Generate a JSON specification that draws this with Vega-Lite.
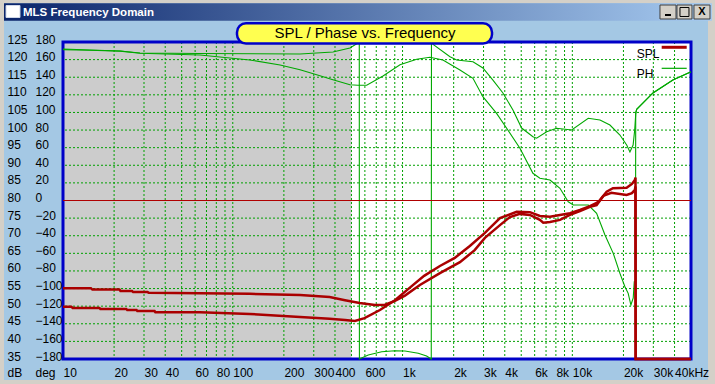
{
  "$schema": "https://vega.github.io/schema/vega-lite/v6.json",
  "width": 628,
  "height": 317,
  "autosize": {"type": "none"},
  "padding": {"left": 63, "top": 42, "right": 24, "bottom": 25},
  "background": "#a4c8e4",
  "config": {"view": {"fill": "#ffffff", "stroke": null}, "axis": {"labelOverlap": false}},
  "datasets": {
    "gridx": [{"f":20},{"f":30},{"f":40},{"f":50},{"f":60},{"f":70},{"f":80},{"f":90},{"f":100},{"f":200},{"f":300},{"f":400},{"f":500},{"f":600},{"f":700},{"f":800},{"f":900},{"f":1000},{"f":2000},{"f":3000},{"f":4000},{"f":5000},{"f":6000},{"f":7000},{"f":8000},{"f":9000},{"f":10000},{"f":20000},{"f":30000},{"f":40000}],
    "gridy": [{"db":40},{"db":45},{"db":50},{"db":55},{"db":60},{"db":65},{"db":70},{"db":75},{"db":80},{"db":85},{"db":90},{"db":95},{"db":100},{"db":105},{"db":110},{"db":115},{"db":120}],
    "spl": [
      {"s":"A","f":10,"db":55.1},{"s":"A","f":14.6,"db":55.1},{"s":"A","f":14.9,"db":54.7},{"s":"A","f":21.5,"db":54.7},{"s":"A","f":21.8,"db":54.3},{"s":"A","f":25.5,"db":54.3},{"s":"A","f":25.9,"db":54.0},{"s":"A","f":31.5,"db":54.0},{"s":"A","f":32,"db":53.8},{"s":"A","f":64,"db":53.7},{"s":"A","f":126,"db":53.5},{"s":"A","f":249,"db":53.2},{"s":"A","f":372,"db":52.6},{"s":"A","f":458,"db":51.7},{"s":"A","f":559,"db":50.9},{"s":"A","f":687,"db":50.3},{"s":"A","f":788,"db":50.4},{"s":"A","f":902,"db":51.5},{"s":"A","f":1033,"db":53.0},{"s":"A","f":1265,"db":56.0},{"s":"A","f":1660,"db":59.4},{"s":"A","f":2178,"db":62.5},{"s":"A","f":2660,"db":65.9},{"s":"A","f":3055,"db":69.4},{"s":"A","f":3748,"db":73.0},{"s":"A","f":4290,"db":75.3},{"s":"A","f":4913,"db":76.2},{"s":"A","f":5627,"db":75.9},{"s":"A","f":6440,"db":74.5},{"s":"A","f":6740,"db":73.7},{"s":"A","f":7387,"db":73.9},{"s":"A","f":8456,"db":74.5},{"s":"A","f":9683,"db":75.9},{"s":"A","f":11090,"db":77.0},{"s":"A","f":12700,"db":78.2},{"s":"A","f":13900,"db":78.7},{"s":"A","f":15210,"db":81.3},{"s":"A","f":16960,"db":82.2},{"s":"A","f":20880,"db":81.6},{"s":"A","f":22440,"db":82.1},{"s":"A","f":23350,"db":83.0},{"s":"A","f":23550,"db":84.0},{"s":"A","f":23600,"db":35},{"s":"A","f":50000,"db":35},
      {"s":"B","f":10,"db":49.85},{"s":"B","f":11.2,"db":49.85},{"s":"B","f":11.4,"db":49.5},{"s":"B","f":16.4,"db":49.5},{"s":"B","f":16.6,"db":49.2},{"s":"B","f":23.6,"db":49.2},{"s":"B","f":23.9,"db":48.9},{"s":"B","f":27.1,"db":48.9},{"s":"B","f":27.4,"db":48.6},{"s":"B","f":34.6,"db":48.6},{"s":"B","f":35,"db":48.3},{"s":"B","f":64,"db":48.3},{"s":"B","f":126,"db":47.8},{"s":"B","f":249,"db":46.9},{"s":"B","f":372,"db":46.4},{"s":"B","f":458,"db":46.1},{"s":"B","f":524,"db":45.8},{"s":"B","f":597,"db":46.6},{"s":"B","f":736,"db":48.9},{"s":"B","f":902,"db":51.7},{"s":"B","f":1100,"db":55.2},{"s":"B","f":1340,"db":58.6},{"s":"B","f":1660,"db":61.4},{"s":"B","f":2030,"db":63.7},{"s":"B","f":2490,"db":67.1},{"s":"B","f":3055,"db":70.8},{"s":"B","f":3748,"db":75.0},{"s":"B","f":4697,"db":76.8},{"s":"B","f":5627,"db":76.7},{"s":"B","f":6440,"db":75.6},{"s":"B","f":7387,"db":75.4},{"s":"B","f":8456,"db":75.9},{"s":"B","f":9683,"db":76.4},{"s":"B","f":11090,"db":77.3},{"s":"B","f":12700,"db":78.4},{"s":"B","f":13900,"db":79.3},{"s":"B","f":14550,"db":80.1},{"s":"B","f":15930,"db":82.5},{"s":"B","f":17340,"db":83.5},{"s":"B","f":20880,"db":83.6},{"s":"B","f":22440,"db":84.7},{"s":"B","f":23350,"db":85.8},{"s":"B","f":23550,"db":86.5},{"s":"B","f":23600,"db":35},{"s":"B","f":50000,"db":35}
    ],
    "ph": [
      {"s":"1","f":10,"deg":172.0},{"s":"1","f":14.4,"deg":170.9},{"s":"1","f":21.7,"deg":169.8},{"s":"1","f":28.4,"deg":167.5},{"s":"1","f":64,"deg":166.9},{"s":"1","f":249,"deg":166.4},{"s":"1","f":389,"deg":168.6},{"s":"1","f":490,"deg":173.2},{"s":"1","f":546,"deg":178.9},{"s":"1","f":556,"deg":180},{"s":"1","f":557,"deg":-180},{"s":"1","f":628,"deg":-175.4},{"s":"1","f":754,"deg":-171.7},{"s":"1","f":902,"deg":-170.6},{"s":"1","f":1033,"deg":-170.9},{"s":"1","f":1237,"deg":-173.5},{"s":"1","f":1385,"deg":-176.6},{"s":"1","f":1476,"deg":-180},{"s":"1","f":1480,"deg":180},{"s":"1","f":1520,"deg":177},{"s":"1","f":1903,"deg":163.3},{"s":"1","f":2083,"deg":159.6},{"s":"1","f":2599,"deg":157.6},{"s":"1","f":2973,"deg":150.5},{"s":"1","f":3407,"deg":136.8},{"s":"1","f":3902,"deg":122.1},{"s":"1","f":4469,"deg":102.8},{"s":"1","f":5027,"deg":82.3},{"s":"1","f":5861,"deg":72.5},{"s":"1","f":6160,"deg":70.7},{"s":"1","f":7060,"deg":78.1},{"s":"1","f":8078,"deg":82.0},{"s":"1","f":9910,"deg":80.1},{"s":"1","f":12410,"deg":93.4},{"s":"1","f":14550,"deg":91.4},{"s":"1","f":16650,"deg":85.7},{"s":"1","f":19070,"deg":74.4},{"s":"1","f":20900,"deg":63.0},{"s":"1","f":21840,"deg":55.1},{"s":"1","f":22800,"deg":63.0},{"s":"1","f":23300,"deg":80},{"s":"1","f":23620,"deg":98},{"s":"1","f":23930,"deg":103.6},{"s":"1","f":29850,"deg":122.1},{"s":"1","f":39100,"deg":136.8},{"s":"1","f":49300,"deg":145.6},{"s":"1","f":50000,"deg":146},
      {"s":"2","f":10,"deg":171.3},{"s":"2","f":14.4,"deg":170.6},{"s":"2","f":21.7,"deg":169.6},{"s":"2","f":28.4,"deg":167.3},{"s":"2","f":64,"deg":165.2},{"s":"2","f":126,"deg":159.6},{"s":"2","f":190,"deg":153.9},{"s":"2","f":249,"deg":148.5},{"s":"2","f":312,"deg":142.9},{"s":"2","f":389,"deg":137.2},{"s":"2","f":490,"deg":131.5},{"s":"2","f":546,"deg":130.8},{"s":"2","f":615,"deg":130.8},{"s":"2","f":767,"deg":141.4},{"s":"2","f":966,"deg":154.2},{"s":"2","f":1211,"deg":160.4},{"s":"2","f":1449,"deg":162.6},{"s":"2","f":1729,"deg":159.6},{"s":"2","f":2178,"deg":148.2},{"s":"2","f":2599,"deg":138.8},{"s":"2","f":2973,"deg":117.9},{"s":"2","f":3580,"deg":99.0},{"s":"2","f":4103,"deg":82.0},{"s":"2","f":4913,"deg":59.3},{"s":"2","f":5861,"deg":30.9},{"s":"2","f":6440,"deg":25.2},{"s":"2","f":7387,"deg":23.3},{"s":"2","f":8456,"deg":13.9},{"s":"2","f":9460,"deg":-1.4},{"s":"2","f":10130,"deg":-5.1},{"s":"2","f":12420,"deg":-5.1},{"s":"2","f":13900,"deg":-14.5},{"s":"2","f":15570,"deg":-39.2},{"s":"2","f":17420,"deg":-60.0},{"s":"2","f":19070,"deg":-82.7},{"s":"2","f":20410,"deg":-97.9},{"s":"2","f":21330,"deg":-105.4},{"s":"2","f":22130,"deg":-118.7},{"s":"2","f":22840,"deg":-110.7},{"s":"2","f":23160,"deg":-92.2},{"s":"2","f":23550,"deg":-92},{"s":"2","f":23620,"deg":100},{"s":"2","f":23930,"deg":103.6},{"s":"2","f":29850,"deg":122.1},{"s":"2","f":39100,"deg":136.8},{"s":"2","f":49300,"deg":145.6},{"s":"2","f":50000,"deg":146}
    ]
  },
  "layer": [
    {
      "layer": [
        {
          "data": {"values": [{}]},
          "mark": {"type": "rect", "fill": "#cccccc"},
          "encoding": {
            "x": {"datum": 10, "type": "quantitative", "scale": {"type": "log", "domain": [10, 50000], "nice": false}},
            "x2": {"datum": 500}
          }
        },
        {
          "data": {"name": "gridx"},
          "mark": {"type": "rule", "color": "#00a000", "strokeDash": [2, 2], "strokeWidth": 1},
          "encoding": {
            "x": {"field": "f", "type": "quantitative", "scale": {"type": "log", "domain": [10, 50000], "nice": false},
              "axis": {"orient": "bottom", "zindex": 1, "values": [10,20,30,40,60,80,100,200,300,400,600,1000,2000,3000,4000,6000,8000,10000,20000,30000,40000],
                "labelExpr": "datum.value >= 1000 ? (datum.value / 1000) + 'k' + (datum.value == 40000 ? 'Hz' : '') : datum.value + ''",
                "labelAlign": "left", "labelBaseline": "alphabetic", "labelPadding": 17, "ticks": false, "tickSize": 0, "domain": false, "grid": false,
                "labelFont": "Liberation Sans", "labelFontSize": 12, "labelColor": "#000000",
                "labelFlush": false, "labelOverlap": false, "labelBound": false, "title": null}}
          }
        },
        {
          "data": {"name": "gridy"},
          "mark": {"type": "rule", "color": "#00a000", "strokeDash": [2, 2], "strokeWidth": 1},
          "encoding": {
            "y": {"field": "db", "type": "quantitative", "scale": {"domain": [35, 125], "nice": false, "zero": false},
              "axis": {"orient": "left", "zindex": 1, "values": [35,40,45,50,55,60,65,70,75,80,85,90,95,100,105,110,115,120,125],
                "labelAlign": "left", "labelBaseline": "middle", "labelPadding": 56, "labelOffset": -3, "ticks": false, "tickSize": 0, "domain": false, "grid": false,
                "labelFont": "Liberation Sans", "labelFontSize": 12, "labelColor": "#000000",
                "labelFlush": false, "labelOverlap": false, "labelBound": false, "labelSeparation": 0,
                "title": "dB", "titleAngle": 0, "titleAlign": "left", "titleBaseline": "alphabetic", "titleX": -56, "titleY": 334,
                "titleFont": "Liberation Sans", "titleFontSize": 12, "titleFontWeight": "normal", "titleColor": "#000000"}}
          }
        },
        {
          "data": {"values": [{}]},
          "mark": {"type": "rect", "filled": false, "color": "#0000c8", "strokeWidth": 3},
          "encoding": {
            "x": {"datum": 10, "type": "quantitative", "scale": {"type": "log", "domain": [10, 50000], "nice": false}},
            "x2": {"datum": 50000}
          }
        }
      ]
    },
    {
      "data": {"name": "ph"},
      "mark": {"type": "line", "color": "#00a800", "strokeWidth": 1.1},
      "encoding": {
        "x": {"field": "f", "type": "quantitative", "scale": {"type": "log", "domain": [10, 50000], "nice": false}},
        "y": {"field": "deg", "type": "quantitative", "scale": {"domain": [-180, 180], "nice": false, "zero": false},
          "axis": {"orient": "left", "zindex": 1, "values": [-180,-160,-140,-120,-100,-80,-60,-40,-20,0,20,40,60,80,100,120,140,160,180],
            "labelAlign": "left", "labelBaseline": "middle", "labelPadding": 28, "labelOffset": -3, "ticks": false, "tickSize": 0, "domain": false, "grid": false,
            "labelFont": "Liberation Sans", "labelFontSize": 12, "labelColor": "#000000",
            "labelFlush": false, "labelOverlap": false, "labelBound": false, "labelSeparation": 0,
            "title": "deg", "titleAngle": 0, "titleAlign": "left", "titleBaseline": "alphabetic", "titleX": -28, "titleY": 334,
            "titleFont": "Liberation Sans", "titleFontSize": 12, "titleFontWeight": "normal", "titleColor": "#000000"}},
        "detail": {"field": "s"}
      }
    },
    {
      "layer": [
        {
          "data": {"values": [{}]},
          "mark": {"type": "rule", "color": "#b00000", "strokeWidth": 1},
          "encoding": {
            "y": {"datum": 80, "type": "quantitative", "scale": {"domain": [35, 125], "nice": false, "zero": false}, "axis": null}
          }
        },
        {
          "data": {"name": "spl"},
          "mark": {"type": "line", "color": "#aa0000", "strokeWidth": 2.5},
          "encoding": {
            "x": {"field": "f", "type": "quantitative", "scale": {"type": "log", "domain": [10, 50000], "nice": false}},
            "y": {"field": "db", "type": "quantitative", "scale": {"domain": [35, 125], "nice": false, "zero": false}, "axis": null},
            "detail": {"field": "s"}
          }
        },
        {
          "data": {"values": [{}]},
          "mark": {"type": "rect", "fill": "#d4d0c8"},
          "encoding": {
            "x": {"datum": 1, "type": "quantitative", "scale": {"type": "log", "domain": [10, 50000], "nice": false}},
            "x2": {"datum": 1000000},
            "y": {"datum": 135.99, "type": "quantitative", "scale": {"domain": [35, 125], "nice": false, "zero": false}, "axis": null},
            "y2": {"datum": 150}
          }
        },
        {
          "data": {"values": [{}]},
          "mark": {"type": "rect", "fill": "#d4d0c8"},
          "encoding": {
            "x": {"datum": 1, "type": "quantitative", "scale": {"type": "log", "domain": [10, 50000], "nice": false}},
            "x2": {"datum": 4.493},
            "y": {"datum": 10, "type": "quantitative", "scale": {"domain": [35, 125], "nice": false, "zero": false}, "axis": null},
            "y2": {"datum": 150}
          }
        },
        {
          "data": {"values": [{}]},
          "mark": {"type": "rect", "fill": "#d4d0c8"},
          "encoding": {
            "x": {"datum": 62950, "type": "quantitative", "scale": {"type": "log", "domain": [10, 50000], "nice": false}},
            "x2": {"datum": 1000000},
            "y": {"datum": 10, "type": "quantitative", "scale": {"domain": [35, 125], "nice": false, "zero": false}, "axis": null},
            "y2": {"datum": 150}
          }
        },
        {
          "data": {"values": [{}]},
          "mark": {"type": "rect", "fill": "#d4d0c8"},
          "encoding": {
            "x": {"datum": 1, "type": "quantitative", "scale": {"type": "log", "domain": [10, 50000], "nice": false}},
            "x2": {"datum": 1000000},
            "y": {"datum": 10, "type": "quantitative", "scale": {"domain": [35, 125], "nice": false, "zero": false}, "axis": null},
            "y2": {"datum": 29.04}
          }
        },
        {
          "data": {"values": [{}]},
          "mark": {"type": "rect", "color": {"gradient": "linear", "x1": 0, "y1": 0, "x2": 1, "y2": 0, "stops": [{"offset": 0, "color": "#0a246a"}, {"offset": 1, "color": "#a6caf0"}]}},
          "encoding": {
            "x": {"datum": 4.493, "type": "quantitative", "scale": {"type": "log", "domain": [10, 50000], "nice": false}},
            "x2": {"datum": 66450},
            "y": {"datum": 131.05, "type": "quantitative", "scale": {"domain": [35, 125], "nice": false, "zero": false}, "axis": null},
            "y2": {"datum": 135.99}
          }
        },
        {
          "data": {"values": [{}]},
          "mark": {"type": "rect", "fill": "#ffffff", "stroke": "#d0d8e8", "strokeWidth": 1},
          "encoding": {
            "x": {"datum": 4.617, "type": "quantitative", "scale": {"type": "log", "domain": [10, 50000], "nice": false}},
            "x2": {"datum": 5.58},
            "y": {"datum": 131.96, "type": "quantitative", "scale": {"domain": [35, 125], "nice": false, "zero": false}, "axis": null},
            "y2": {"datum": 135.36}
          }
        },
        {
          "data": {"values": [{}]},
          "mark": {"type": "text", "text": "MLS Frequency Domain", "color": "#ffffff", "font": "Liberation Sans", "fontSize": 11.5, "fontWeight": "bold", "align": "left", "baseline": "middle"},
          "encoding": {
            "x": {"datum": 5.812, "type": "quantitative", "scale": {"type": "log", "domain": [10, 50000], "nice": false}},
            "y": {"datum": 133.23, "type": "quantitative", "scale": {"domain": [35, 125], "nice": false, "zero": false}, "axis": null}
          }
        },
        {
          "data": {"values": [{"b": "min", "x0": 32830, "x1": 40790}, {"b": "max", "x0": 41350, "x1": 50670}, {"b": "close", "x0": 52060, "x1": 64680}]},
          "mark": {"type": "rect", "fill": "#d4d0c8", "stroke": "#404040", "strokeWidth": 1},
          "encoding": {
            "x": {"field": "x0", "type": "quantitative", "scale": {"type": "log", "domain": [10, 50000], "nice": false}},
            "x2": {"field": "x1"},
            "y": {"datum": 131.53, "type": "quantitative", "scale": {"domain": [35, 125], "nice": false, "zero": false}, "axis": null},
            "y2": {"datum": 135.5}
          }
        },
        {
          "data": {"values": [{}]},
          "mark": {"type": "rect", "fill": "#000000"},
          "encoding": {
            "x": {"datum": 35130, "type": "quantitative", "scale": {"type": "log", "domain": [10, 50000], "nice": false}},
            "x2": {"datum": 38110},
            "y": {"datum": 132.38, "type": "quantitative", "scale": {"domain": [35, 125], "nice": false, "zero": false}, "axis": null},
            "y2": {"datum": 132.95}
          }
        },
        {
          "data": {"values": [{}]},
          "mark": {"type": "rect", "filled": false, "color": "#000000", "strokeWidth": 1},
          "encoding": {
            "x": {"datum": 43060, "type": "quantitative", "scale": {"type": "log", "domain": [10, 50000], "nice": false}},
            "x2": {"datum": 48650},
            "y": {"datum": 132.24, "type": "quantitative", "scale": {"domain": [35, 125], "nice": false, "zero": false}, "axis": null},
            "y2": {"datum": 134.8}
          }
        },
        {
          "data": {"values": [{}]},
          "mark": {"type": "text", "text": "X", "color": "#000000", "font": "Liberation Sans", "fontSize": 11, "fontWeight": "bold", "align": "center", "baseline": "middle"},
          "encoding": {
            "x": {"datum": 58030, "type": "quantitative", "scale": {"type": "log", "domain": [10, 50000], "nice": false}},
            "y": {"datum": 133.4, "type": "quantitative", "scale": {"domain": [35, 125], "nice": false, "zero": false}, "axis": null}
          }
        },
        {
          "data": {"values": [{}]},
          "mark": {"type": "rect", "fill": "#ffff50", "stroke": "#0000c8", "strokeWidth": 2.5, "cornerRadius": 9},
          "encoding": {
            "x": {"datum": 105.9, "type": "quantitative", "scale": {"type": "log", "domain": [10, 50000], "nice": false}},
            "x2": {"datum": 3364},
            "y": {"datum": 124.6, "type": "quantitative", "scale": {"domain": [35, 125], "nice": false, "zero": false}, "axis": null},
            "y2": {"datum": 130.3}
          }
        },
        {
          "data": {"values": [{}]},
          "mark": {"type": "text", "text": "SPL / Phase vs. Frequency", "color": "#000000", "font": "Liberation Sans", "fontSize": 15, "align": "center", "baseline": "middle"},
          "encoding": {
            "x": {"datum": 601, "type": "quantitative", "scale": {"type": "log", "domain": [10, 50000], "nice": false}},
            "y": {"datum": 127.6, "type": "quantitative", "scale": {"domain": [35, 125], "nice": false, "zero": false}, "axis": null}
          }
        },
        {
          "data": {"values": [{"label": "SPL", "ly": 121.59}, {"label": "PH", "ly": 115.91}]},
          "mark": {"type": "text", "color": "#000000", "font": "Liberation Sans", "fontSize": 12, "align": "left", "baseline": "middle"},
          "encoding": {
            "x": {"datum": 23930, "type": "quantitative", "scale": {"type": "log", "domain": [10, 50000], "nice": false}},
            "y": {"field": "ly", "type": "quantitative", "scale": {"domain": [35, 125], "nice": false, "zero": false}, "axis": null},
            "text": {"field": "label"}
          }
        },
        {
          "data": {"values": [{}]},
          "mark": {"type": "rule", "color": "#aa0000", "strokeWidth": 3},
          "encoding": {
            "x": {"datum": 33600, "type": "quantitative", "scale": {"type": "log", "domain": [10, 50000], "nice": false}},
            "x2": {"datum": 47170},
            "y": {"datum": 123.5, "type": "quantitative", "scale": {"domain": [35, 125], "nice": false, "zero": false}, "axis": null}
          }
        },
        {
          "data": {"values": [{}]},
          "mark": {"type": "rule", "color": "#00a800", "strokeWidth": 1.2},
          "encoding": {
            "x": {"datum": 33600, "type": "quantitative", "scale": {"type": "log", "domain": [10, 50000], "nice": false}},
            "x2": {"datum": 47170},
            "y": {"datum": 117.53, "type": "quantitative", "scale": {"domain": [35, 125], "nice": false, "zero": false}, "axis": null}
          }
        }
      ]
    }
  ],
  "resolve": {"scale": {"y": "independent"}, "axis": {"y": "independent"}}
}
